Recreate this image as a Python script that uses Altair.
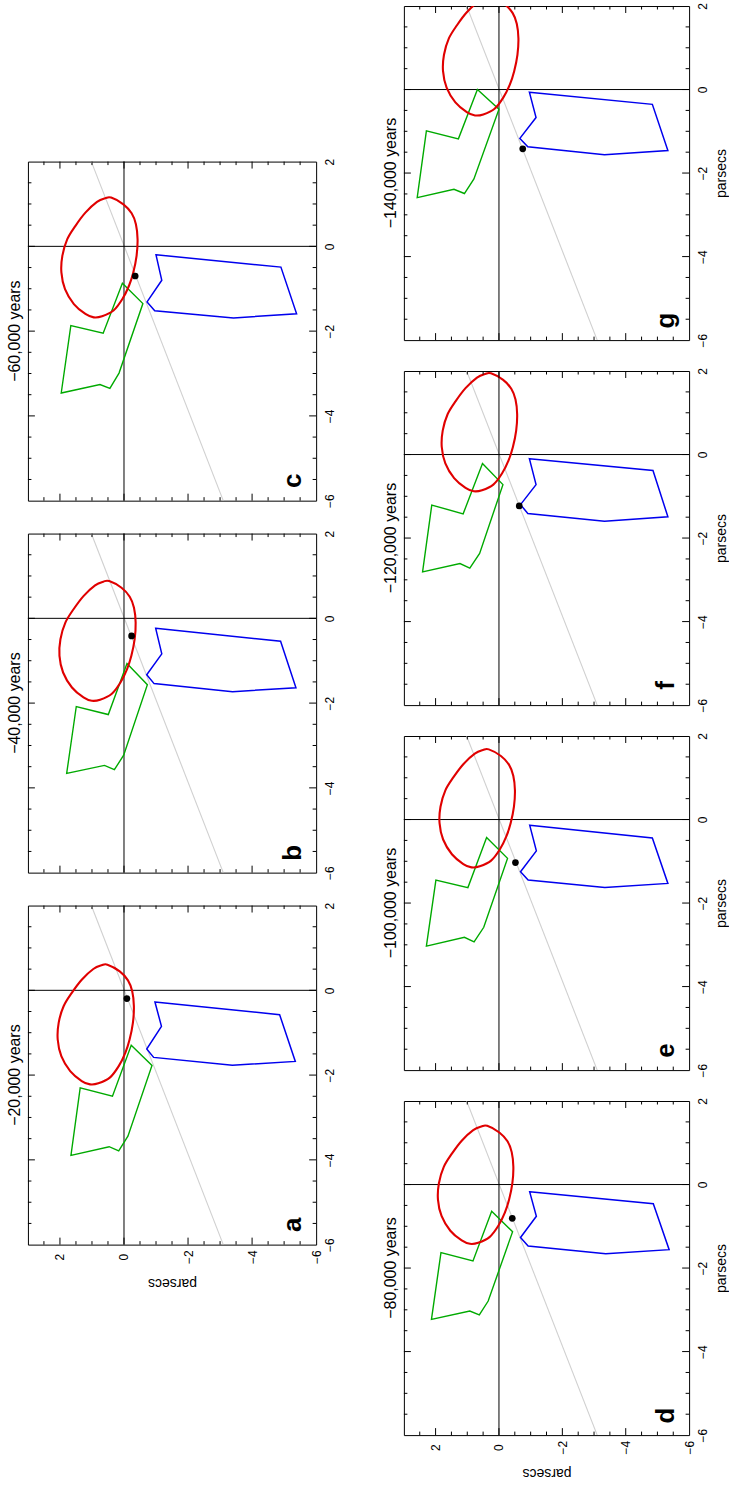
import altair as alt
import pandas as pd

FONT = "Liberation Sans"

letters = ["a", "b", "c", "d", "e", "f", "g"]
titles = ["\u221220,000 years", "\u221240,000 years", "\u221260,000 years",
          "\u221280,000 years", "\u2212100,000 years", "\u2212120,000 years",
          "\u2212140,000 years"]

# px = original x (runs up the page), py = original y (runs across the page, reversed)
blue_px = {
    "a": [-0.276, -0.575, -1.677, -1.77, -1.583, -1.386, -0.85],
    "b": [-0.235, -0.54, -1.64, -1.73, -1.54, -1.33, -0.84],
    "c": [-0.2, -0.49, -1.59, -1.69, -1.52, -1.31, -0.8],
    "d": [-0.175, -0.46, -1.56, -1.66, -1.47, -1.27, -0.76],
    "e": [-0.135, -0.44, -1.53, -1.63, -1.45, -1.25, -0.75],
    "f": [-0.10, -0.38, -1.49, -1.6, -1.41, -1.2, -0.72],
    "g": [-0.063, -0.355, -1.46, -1.56, -1.37, -1.17, -0.67],
}
blue_py = {
    "a": [-0.967, -4.86, -5.35, -3.385, -0.926, -0.71, -1.17],
    "b": [-0.99, -4.89, -5.37, -3.39, -0.94, -0.71, -1.18],
    "c": [-1.0, -4.9, -5.39, -3.42, -0.96, -0.72, -1.18],
    "d": [-0.97, -4.87, -5.37, -3.37, -0.92, -0.68, -1.18],
    "e": [-0.97, -4.84, -5.33, -3.34, -0.92, -0.68, -1.18],
    "f": [-0.96, -4.86, -5.33, -3.33, -0.91, -0.68, -1.17],
    "g": [-0.96, -4.84, -5.33, -3.33, -0.91, -0.66, -1.17],
}
green_px = {
    "a": [-1.296, -1.775, -3.44, -3.79, -3.69, -3.896, -2.30, -2.50],
    "b": [-1.065, -1.566, -3.23, -3.57, -3.47, -3.66, -2.08, -2.27],
    "c": [-0.87, -1.35, -2.99, -3.35, -3.26, -3.46, -1.87, -2.05],
    "d": [-0.64, -1.13, -2.79, -3.12, -3.03, -3.23, -1.63, -1.83],
    "e": [-0.43, -0.93, -2.58, -2.93, -2.82, -3.03, -1.45, -1.63],
    "f": [-0.215, -0.72, -2.37, -2.72, -2.61, -2.81, -1.21, -1.42],
    "g": [0.0, -0.47, -2.14, -2.49, -2.39, -2.59, -0.99, -1.18],
}
green_py = {
    "a": [-0.226, -0.874, -0.123, 0.165, 0.463, 1.656, 1.368, 0.36],
    "b": [-0.093, -0.73, 0.01, 0.30, 0.61, 1.79, 1.49, 0.49],
    "c": [0.05, -0.59, 0.155, 0.44, 0.75, 1.96, 1.66, 0.65],
    "d": [0.23, -0.43, 0.34, 0.62, 0.92, 2.13, 1.83, 0.82],
    "e": [0.39, -0.27, 0.48, 0.785, 1.09, 2.29, 1.99, 0.98],
    "f": [0.52, -0.125, 0.61, 0.92, 1.23, 2.41, 2.12, 1.13],
    "g": [0.68, 0.0, 0.79, 1.09, 1.42, 2.58, 2.29, 1.28],
}
# red contour as read in panel a, and its displacement read in each panel
red_px = [0.605, 0.447, 0.235, -0.024, -0.376, -0.768, -1.16, -1.474, -1.788, -2.06, -2.195,
          -2.22, -2.14, -1.906, -1.553, -1.16, -0.768, -0.376, -0.06, 0.25, 0.503, 0.59]
red_py = [0.516, 0.133, -0.124, -0.257, -0.309, -0.278, -0.175, -0.041, 0.165, 0.443, 0.80,
          1.06, 1.32, 1.68, 1.957, 2.07, 2.04, 1.886, 1.63, 1.32, 0.958, 0.70]
red_shift_px = [0.0, 0.275, 0.545, 0.80, 1.075, 1.34, 1.60]
red_shift_py = [0.0, -0.055, -0.115, -0.145, -0.195, -0.265, -0.305]

dot_px = [-0.196, -0.415, -0.70, -0.81, -1.03, -1.23, -1.42]
dot_py = [-0.09, -0.237, -0.35, -0.42, -0.52, -0.64, -0.75]

gray_px = [2.0, -6.0]
gray_py = [1.02, -3.1]

letter_px = -5.53
letter_py = -5.27

px_labels = [-6, -4, -2, 0, 2]
py_labels = [2, 0, -2, -4, -6]
px_major = [-4, -2, 0]
px_minor = [-5.5, -5, -4.5, -3.5, -3, -2.5, -1.5, -1, -0.5, 0.5, 1, 1.5]
py_major = [2, 0, -2, -4]
py_minor = [2.5, 1.5, 1, 0.5, -0.5, -1, -1.5, -2.5, -3, -3.5, -4.5, -5, -5.5]


def panel(i, W, H, bottom_labels, right_title):
    k = letters[i]
    xs = alt.Scale(domain=[-6, 3], reverse=True, nice=False, zero=False)
    ys = alt.Scale(domain=[-6, 2], nice=False, zero=False)

    if bottom_labels:
        x_axis = alt.Axis(values=py_labels, labelAngle=270, labelAlign="center",
                          labelBaseline="middle", labelPadding=12, labelFlush=False,
                          labelOverlap=False, ticks=False, domain=False, grid=False,
                          labelFontSize=12, title="parsecs", titleAngle=180,
                          titleBaseline="bottom", titlePadding=12, titleFontSize=14,
                          titleFontWeight="normal")
    else:
        x_axis = None
    ykw = dict(orient="right", values=px_labels, labelAngle=270, labelAlign="center",
               labelBaseline="top", labelPadding=8, labelFlush=False, labelOverlap=False,
               ticks=False, domain=False, grid=False, labelFontSize=12)
    if right_title:
        y_axis = alt.Axis(title="parsecs", titleAngle=270, titleBaseline="top",
                          titlePadding=6, titleFontSize=14, titleFontWeight="normal", **ykw)
    else:
        y_axis = alt.Axis(title=None, **ykw)

    # every layer carries the same axis definition so that the merged axis is kept
    def X():
        return alt.X("py:Q", scale=xs, axis=x_axis)

    def Y():
        return alt.Y("px:Q", scale=ys, axis=y_axis)

    gray = alt.Chart(pd.DataFrame({"px": gray_px, "py": gray_py, "i": [0, 1]})).mark_line(
        color="#d0d0d0", strokeWidth=1.1, clip=True).encode(x=X(), y=Y(), order="i:Q")
    hline = alt.Chart(pd.DataFrame({"px": [0.0]})).mark_rule(
        color="black", strokeWidth=1).encode(y=Y())
    vline = alt.Chart(pd.DataFrame({"py": [0.0]})).mark_rule(
        color="black", strokeWidth=1).encode(x=X())

    def poly(px, py, color, width, interp):
        df = pd.DataFrame({"px": px, "py": py, "i": list(range(len(px)))})
        return alt.Chart(df).mark_line(color=color, strokeWidth=width,
                                       interpolate=interp, clip=True).encode(
            x=X(), y=Y(), order="i:Q")

    blue = poly(blue_px[k], blue_py[k], "#0000ee", 1.5, "linear-closed")
    green = poly(green_px[k], green_py[k], "#00aa00", 1.4, "linear-closed")
    red = poly([v + red_shift_px[i] for v in red_px], [v + red_shift_py[i] for v in red_py],
               "#e00000", 2.1, "cardinal-closed")
    dot = alt.Chart(pd.DataFrame({"px": [dot_px[i]], "py": [dot_py[i]]})).mark_circle(
        color="black", size=45, opacity=1).encode(x=X(), y=Y())
    lab = alt.Chart(pd.DataFrame({"px": [letter_px], "py": [letter_py], "t": [k]})).mark_text(
        angle=270, fontSize=26, fontWeight="bold", font=FONT, color="black").encode(
        x=X(), y=Y(), text="t:N")

    ticks = []
    for vals, L in ((px_major, 7), (px_minor, 3.5)):
        df = pd.DataFrame({"px": vals})
        ticks.append(alt.Chart(df).mark_rule(color="black", strokeWidth=1).encode(
            y=Y(), x=alt.value(0), x2=alt.value(L)))
        ticks.append(alt.Chart(df).mark_rule(color="black", strokeWidth=1).encode(
            y=Y(), x=alt.value(W), x2=alt.value(W - L)))
    for vals, L in ((py_major, 7), (py_minor, 3.5)):
        df = pd.DataFrame({"py": vals})
        ticks.append(alt.Chart(df).mark_rule(color="black", strokeWidth=1).encode(
            x=X(), y=alt.value(0), y2=alt.value(L)))
        ticks.append(alt.Chart(df).mark_rule(color="black", strokeWidth=1).encode(
            x=X(), y=alt.value(H), y2=alt.value(H - L)))

    return alt.layer(gray, hline, vline, blue, green, red, dot, lab, *ticks).properties(
        width=W, height=H,
        title=alt.TitleParams(text=titles[i], orient="left", anchor="middle", fontSize=16,
                              font=FONT, fontWeight="normal", color="black", offset=4))


W_L, H_L = 289, 340
W_R, H_R = 286, 335

spacer = alt.Chart(pd.DataFrame({"a": [0]})).mark_point(opacity=0, size=1).encode(
    x=alt.value(20), y=alt.value(20)).properties(
    width=W_L, height=130, view=alt.ViewBackground(stroke="transparent"))

left = alt.vconcat(spacer, panel(2, W_L, H_L, False, False), panel(1, W_L, H_L, False, False),
                   panel(0, W_L, H_L, True, False), spacing=21)
right = alt.vconcat(panel(6, W_R, H_R, False, True), panel(5, W_R, H_R, False, True),
                    panel(4, W_R, H_R, False, True), panel(3, W_R, H_R, True, True), spacing=19)

chart = alt.hconcat(left, right, spacing=46).properties(
    padding={"left": 6, "top": 0, "right": 0, "bottom": 0},
    background="white",
).configure_view(stroke="black", strokeWidth=1).configure_axis(
    labelFont=FONT, titleFont=FONT, labelColor="black", titleColor="black"
).configure_title(font=FONT)

chart.save("out.html", embed_options={"renderer": "svg", "actions": False})
